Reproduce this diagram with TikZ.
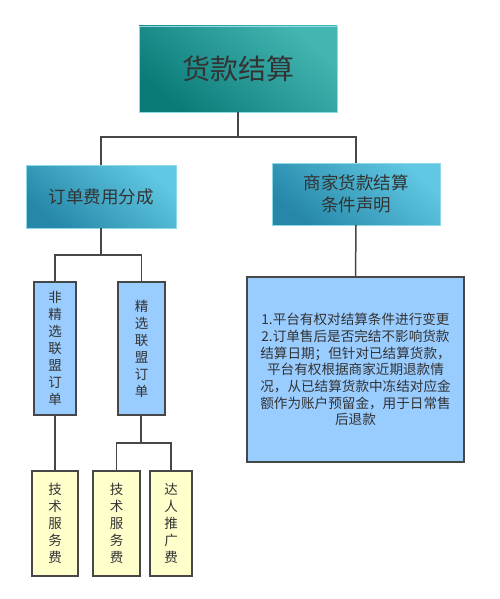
\documentclass[tikz,border=0pt]{standalone}
\usepackage{fontspec}
\usepackage{tikz}
\usepackage{xcolor}
\newfontfamily\cjkfont{Noto Sans CJK SC}
\definecolor{myteal}{HTML}{0B7B78}
\definecolor{mylightteal}{HTML}{44B6B2}
\definecolor{myblue}{HTML}{2687A8}
\definecolor{mylightblue}{HTML}{60C8E3}
\definecolor{myedge}{HTML}{8ED9E6}
\definecolor{myfill}{HTML}{99CCFF}
\definecolor{myyellow}{HTML}{FFFFCC}
\colorlet{mytext}{black!80}
\colorlet{myline}{black!72}
\tikzset{
  box/.style={rectangle,inner sep=0,outer sep=0,text=mytext,align=center},
  box root/.style={box,draw=myedge,line width=0.8pt,bottom color=myteal,top color=mylightteal,
                   shading angle=-40,font=\cjkfont\fontsize{28}{32}\selectfont},
  box sub/.style={box,draw=myedge,line width=0.8pt,bottom color=myblue,top color=mylightblue,
                  shading angle=-40,font=\cjkfont\fontsize{17.5}{22}\selectfont},
  box order/.style={box,draw=myline,line width=1.8pt,fill=myfill,
                    font=\cjkfont\fontsize{13.5}{17}\selectfont},
  box fee/.style={box order,fill=myyellow},
  box note/.style={box order,font=\cjkfont\fontsize{13.6}{16.7}\selectfont},
  connect/.style={line width=1.5pt,myline}
}
\begin{document}
\begin{tikzpicture}[x=1pt,y=-1pt]
  \useasboundingbox (0,0) rectangle (500,599);
  % Top node
  \node[box root,minimum width=198,minimum height=86] (root) at (238,69) {货款结算};
  % Second level
  \node[box sub,minimum width=150,minimum height=63] (share) at (101,196.5) {订单费用分成};
  \node[box sub,minimum width=168,minimum height=62] (cond) at (356,194) {商家货款结算\\条件声明};
  % Order types, written top to bottom
  \node[box order,minimum width=42,minimum height=133] (plain) at (55,348.5)
       {非\\精\\选\\联\\盟\\订\\单};
  \node[box order,minimum width=47,minimum height=133] (chosen) at (141.5,348.5)
       {精\\选\\联\\盟\\订\\单};
  % Fees
  \foreach \x/\w/\t [count=\i] in {55/46/技\\术\\服\\务\\费,
                                   116.5/47/技\\术\\服\\务\\费,
                                   171/42/达\\人\\推\\广\\费}{%
    \node[box fee,minimum width=\w,minimum height=105] (fee\i) at (\x,523.5) {\t};
  }
  % Conditions text
  \node[box note,minimum width=217,minimum height=185] (note) at (355.5,369.5)
       {1.平台有权对结算条件进行变更\\2.订单售后是否完结不影响货款\\结算日期；但针对已结算货款，\\
        平台有权根据商家近期退款情\\况，从已结算货款中冻结对应金\\额作为账户预留金，用于日常售\\后退款};
  % Connectors
  \coordinate (j1) at (238,137);
  \coordinate (j2) at (101,255);
  \coordinate (j3) at (141,443);
  \draw[connect] (root.south) -- (j1) -| (share.north);
  \draw[connect] (j1) -| (cond.north);
  \draw[connect] (share.south) -- (j2) -| (plain.north);
  \draw[connect] (j2) -| (chosen.north);
  \draw[connect] (cond.south) -- (note.north);
  \draw[connect] (plain.south) -- (fee1.north);
  \draw[connect] (chosen.south -| j3) -- (j3) -| (fee2.north);
  \draw[connect] (j3) -| (fee3.north);
\end{tikzpicture}
\end{document}
